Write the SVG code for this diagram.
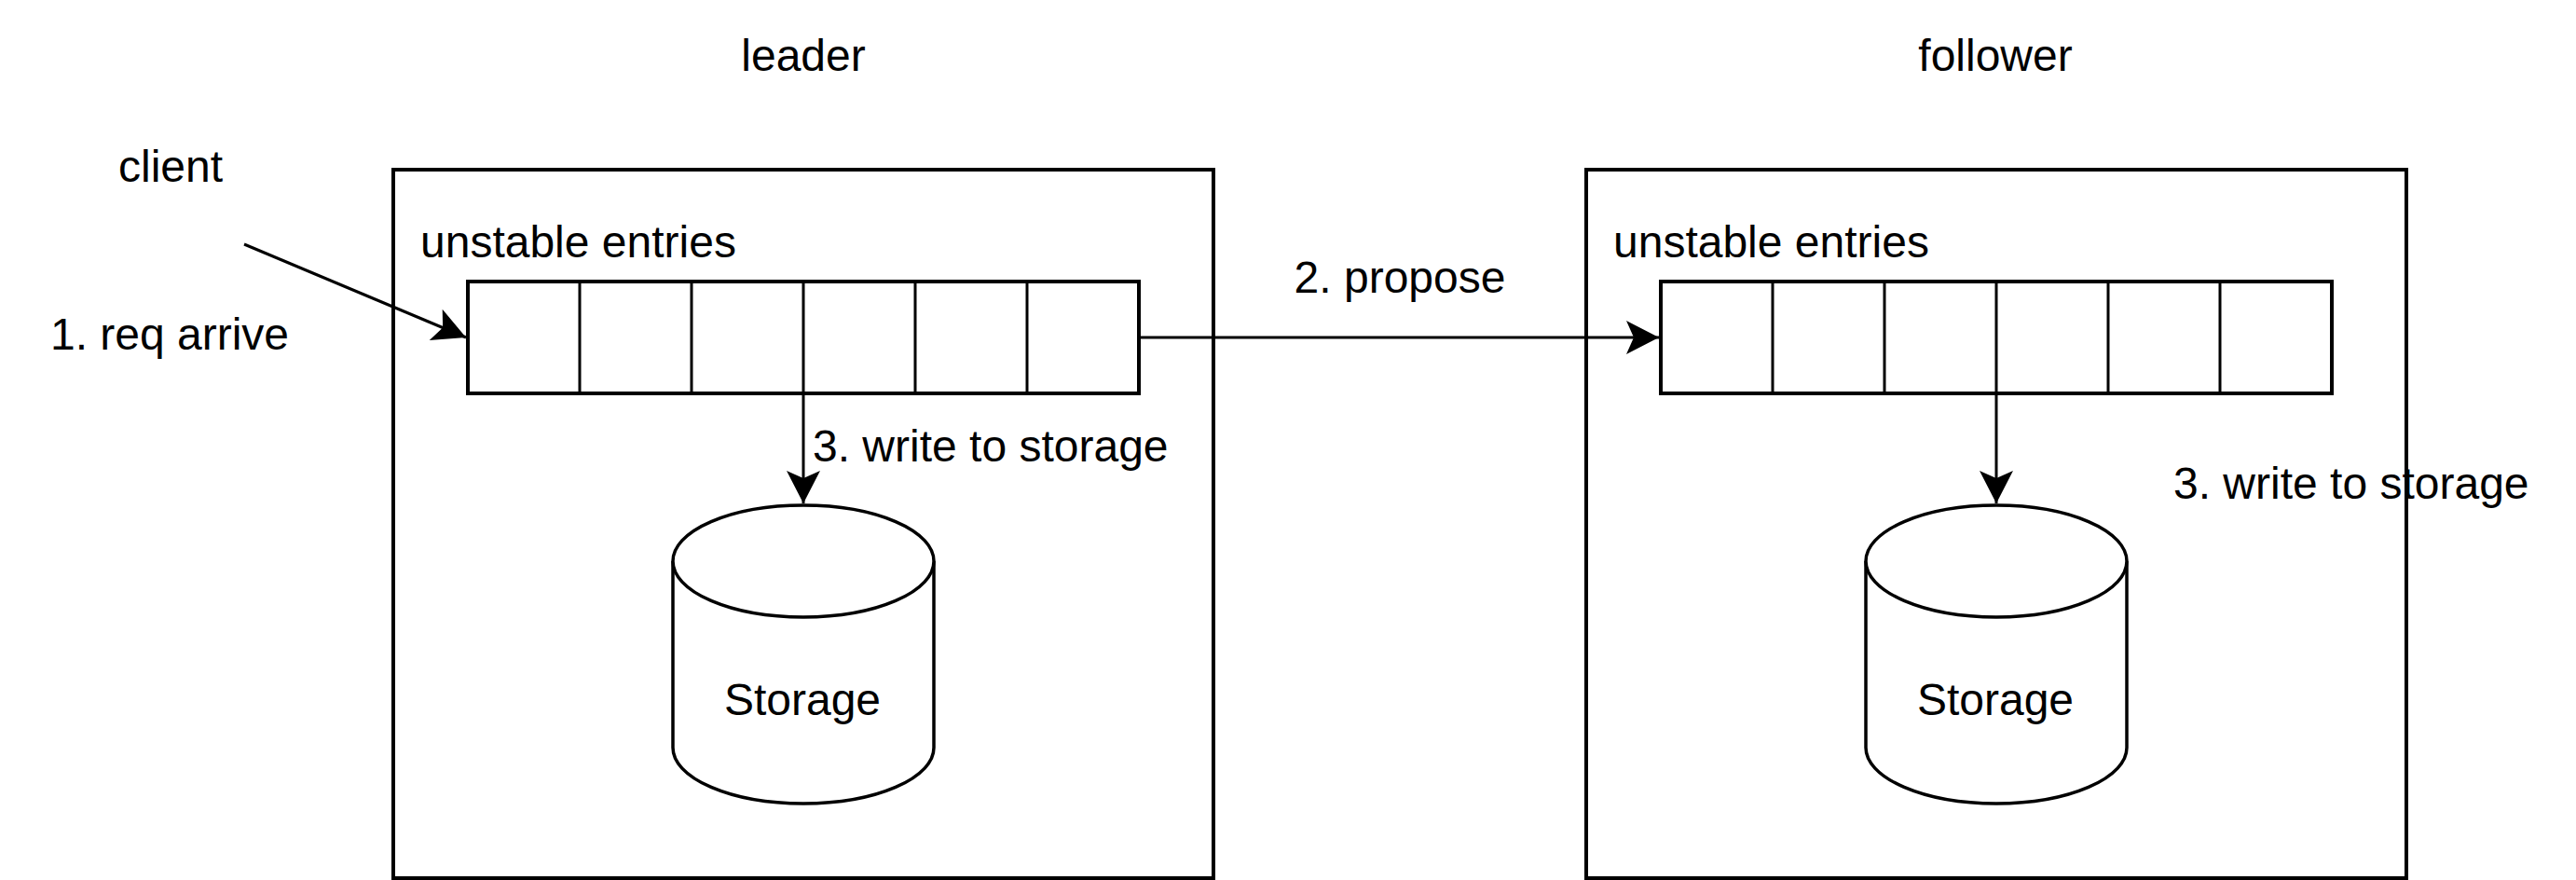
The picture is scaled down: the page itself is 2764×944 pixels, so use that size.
<svg xmlns="http://www.w3.org/2000/svg" width="2764" height="944" viewBox="0 0 2764 944">
<style>
text{font-family:"Liberation Sans",Arial,sans-serif;font-size:48px;fill:#000}
.box{fill:#fff;stroke:#000;stroke-width:4}
.q{fill:#fff;stroke:#000;stroke-width:4}
.div{stroke:#000;stroke-width:3;fill:none}
.cyl{fill:#fff;stroke:#000;stroke-width:3.5}
.conn{stroke:#000;stroke-width:3;fill:none;marker-end:url(#arrow)}
.mid{text-anchor:middle}
</style>
<defs>
<marker id="arrow" markerUnits="userSpaceOnUse" markerWidth="40" markerHeight="40" viewBox="-36 -20 40 40" refX="0" refY="0" orient="auto">
<path d="M0,0 L-35,-18 L-27,0 L-35,18 Z" fill="#000"/>
</marker>
</defs>
<rect width="2764" height="944" fill="#fff"/>
<g id="title-leader"><text class="mid" x="862" y="76">leader</text></g>
<g id="title-follower"><text class="mid" x="2141" y="76">follower</text></g>
<g id="client"><text class="mid" x="183" y="195">client</text></g>
<g id="leader">
<rect class="box" x="422" y="182" width="880" height="760"/>
<text x="451" y="276">unstable entries</text>
</g>
<g id="leader-queue">
<rect class="q" x="502" y="302" width="720" height="120"/>
<path class="div" d="M622,302V422M742,302V422M862,302V422M982,302V422M1102,302V422"/>
</g>
<g id="leader-storage">
<path class="cyl" d="M722,602 A140,60 0 0 1 1002,602 L1002,802 A140,60 0 0 1 722,802 Z"/>
<path class="cyl" fill="none" d="M722,602 A140,60 0 0 0 1002,602"/>
<text class="mid" x="861" y="767">Storage</text>
</g>
<g id="follower">
<rect class="box" x="1702" y="182" width="880" height="760"/>
<text x="1731" y="276">unstable entries</text>
</g>
<g id="follower-queue">
<rect class="q" x="1782" y="302" width="720" height="120"/>
<path class="div" d="M1902,302V422M2022,302V422M2142,302V422M2262,302V422M2382,302V422"/>
</g>
<g id="follower-storage">
<path class="cyl" d="M2002,602 A140,60 0 0 1 2282,602 L2282,802 A140,60 0 0 1 2002,802 Z"/>
<path class="cyl" fill="none" d="M2002,602 A140,60 0 0 0 2282,602"/>
<text class="mid" x="2141" y="767">Storage</text>
</g>
<g id="connectors">
<path class="conn" d="M262,262 L500,362"/>
<path class="conn" d="M1222,362 L1780,362"/>
<path class="conn" d="M862,422 L862,540"/>
<path class="conn" d="M2142,422 L2142,540"/>
<text class="mid" x="182" y="375">1. req arrive</text>
<text class="mid" x="1502" y="314">2. propose</text>
<text x="872" y="495">3. write to storage</text>
<text x="2332" y="535">3. write to storage</text>
</g>
</svg>
